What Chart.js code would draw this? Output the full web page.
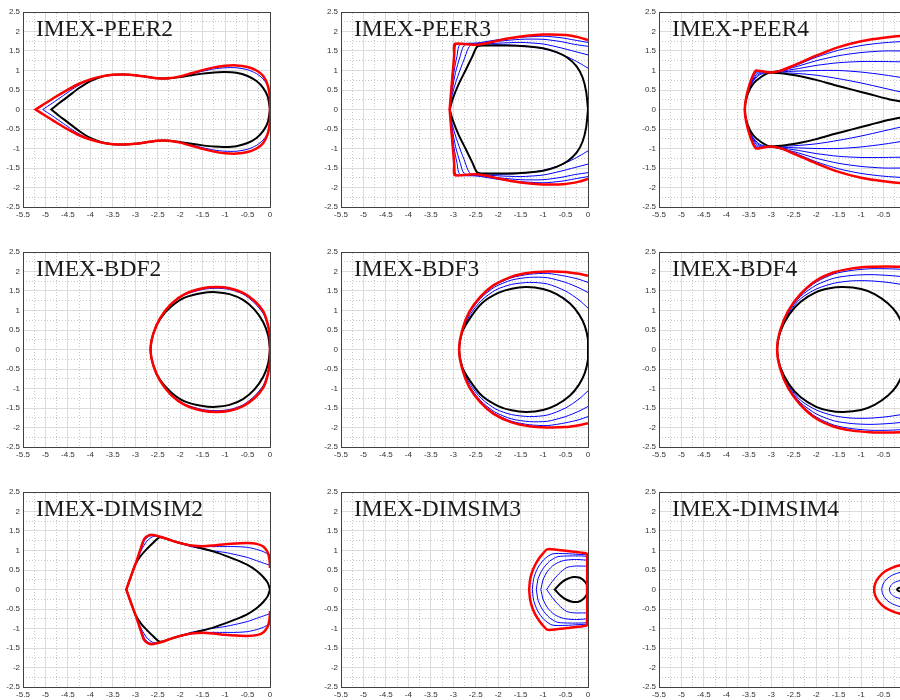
<!DOCTYPE html>
<html><head><meta charset="utf-8">
<script src="https://cdn.jsdelivr.net/npm/chart.js@4.4.0/dist/chart.umd.min.js"></script>
<style>
html,body{margin:0;padding:0;background:#fff;width:900px;height:700px;overflow:hidden;}
#fig{position:relative;width:900px;height:700px;overflow:hidden;background:#fff;}
#fig canvas{position:absolute;}
.ttl{position:absolute;font-family:"Liberation Serif","Times New Roman",serif;font-size:23.5px;color:#1a1a1a;white-space:nowrap;line-height:1;z-index:2;}
</style></head><body><div id="fig"></div>
<script>
// ---------- data (upper halves; curves are symmetric about Im=0) ----------
const titles = ['IMEX-PEER2','IMEX-PEER3','IMEX-PEER4','IMEX-BDF2','IMEX-BDF3','IMEX-BDF4','IMEX-DIMSIM2','IMEX-DIMSIM3','IMEX-DIMSIM4'];
const xRange = [-5.5, 0];
const yRange = [-2.5, 2.5];
const majorStep = 0.5;
const minorStep = 0.25;

// IMEX-PEER2
const peer2Red = [[-5.22,0],[-5.0,0.16],[-4.75,0.34],[-4.5,0.51],[-4.25,0.66],[-4.0,0.77],[-3.75,0.85],[-3.5,0.89],[-3.25,0.9],[-3.0,0.88],[-2.75,0.84],[-2.5,0.8],[-2.25,0.8],[-2.0,0.85],[-1.75,0.93],[-1.5,1.01],[-1.25,1.08],[-1.0,1.12],[-0.75,1.13],[-0.5,1.09],[-0.3,1.0],[-0.15,0.86],[-0.05,0.62],[0,0.3],[0,0]];
const peer2Black = [[-4.87,0],[-4.7,0.16],[-4.5,0.33],[-4.25,0.55],[-4.0,0.73],[-3.75,0.84],[-3.5,0.89],[-3.25,0.9],[-3.0,0.88],[-2.75,0.84],[-2.5,0.8],[-2.25,0.8],[-2.0,0.83],[-1.75,0.88],[-1.5,0.92],[-1.25,0.95],[-1.0,0.96],[-0.75,0.94],[-0.5,0.86],[-0.3,0.73],[-0.15,0.55],[-0.05,0.33],[0,0]];
const peer2Blue1 = [[-5.06,0],[-4.85,0.16],[-4.6,0.36],[-4.4,0.52],[-4.2,0.66],[-4.0,0.77],[-3.75,0.85],[-3.5,0.89],[-3.25,0.9],[-3.0,0.88],[-2.75,0.84],[-2.5,0.8],[-2.25,0.8],[-2.0,0.84],[-1.75,0.91],[-1.5,0.98],[-1.25,1.04],[-1.0,1.07],[-0.75,1.07],[-0.5,1.02],[-0.3,0.92],[-0.15,0.78],[-0.05,0.6],[0,0.3],[0,0]];

// IMEX-PEER3
const peer3Red = [[-3.08,0],[-3.06,0.3],[-3.03,0.7],[-3.0,1.1],[-2.98,1.4],[-2.97,1.68],[-2.7,1.67],[-2.48,1.66],[-2.2,1.71],[-2.0,1.77],[-1.5,1.87],[-1.0,1.92],[-0.5,1.91],[-0.2,1.85],[0,1.78]];
const peer3Black = [[-3.08,0],[-3.01,0.28],[-2.88,0.65],[-2.72,1.02],[-2.58,1.35],[-2.46,1.62],[-2.2,1.64],[-1.8,1.64],[-1.4,1.62],[-1.0,1.57],[-0.7,1.47],[-0.45,1.32],[-0.25,1.1],[-0.12,0.82],[-0.04,0.45],[0,0]];
const peer3Blue1 = [[-3.08,0],[-3.02,0.4],[-2.9,0.85],[-2.76,1.28],[-2.62,1.64],[-2.3,1.65],[-2.0,1.66],[-1.5,1.64],[-1.0,1.56],[-0.6,1.42],[-0.3,1.26],[-0.1,1.13],[0,1.06]];
const peer3Blue2 = [[-3.08,0],[-3.03,0.45],[-2.95,0.95],[-2.85,1.35],[-2.75,1.65],[-2.4,1.67],[-2.0,1.7],[-1.5,1.72],[-1.0,1.68],[-0.6,1.58],[-0.3,1.49],[0,1.4]];
const peer3Blue3 = [[-3.08,0],[-3.04,0.5],[-2.98,1.0],[-2.92,1.35],[-2.85,1.66],[-2.4,1.7],[-2.0,1.75],[-1.5,1.8],[-1.0,1.8],[-0.6,1.74],[-0.3,1.67],[0,1.62]];
const peer3Blue4 = [[-3.08,0],[-3.05,0.5],[-3.01,1.05],[-2.97,1.4],[-2.93,1.67],[-2.5,1.7],[-2.0,1.79],[-1.5,1.85],[-1.0,1.88],[-0.6,1.84],[-0.3,1.78],[0,1.72]];

// IMEX-PEER4
const peer4Red = [[-3.59,0],[-3.56,0.3],[-3.49,0.62],[-3.4,0.9],[-3.34,1.0],[-3.2,0.98],[-3.03,0.95],[-2.8,0.99],[-2.5,1.13],[-2.0,1.38],[-1.5,1.6],[-1.0,1.75],[-0.5,1.84],[0,1.9]];
const peer4Black = [[-3.59,0],[-3.53,0.38],[-3.4,0.66],[-3.22,0.84],[-3.03,0.94],[-2.66,0.91],[-2.3,0.84],[-2.0,0.76],[-1.6,0.63],[-1.2,0.51],[-0.8,0.39],[-0.4,0.27],[-0.1,0.2],[0,0.18]];
const peer4Blue1 = [[-3.59,0],[-3.54,0.35],[-3.43,0.68],[-3.27,0.88],[-3.1,0.95],[-3.0,0.95],[-2.5,0.93],[-2.0,0.88],[-1.5,0.79],[-1.0,0.68],[-0.5,0.55],[0,0.42]];
const peer4Blue2 = [[-3.59,0],[-3.55,0.33],[-3.45,0.66],[-3.3,0.89],[-3.15,0.96],[-3.0,0.96],[-2.5,0.98],[-2.0,1.0],[-1.5,1.0],[-1.0,0.96],[-0.5,0.89],[0,0.8]];
const peer4Blue3 = [[-3.59,0],[-3.55,0.32],[-3.46,0.65],[-3.33,0.9],[-3.2,0.97],[-3.0,0.96],[-2.5,1.03],[-2.0,1.13],[-1.5,1.2],[-1.0,1.23],[-0.5,1.23],[0,1.22]];
const peer4Blue4 = [[-3.59,0],[-3.56,0.31],[-3.47,0.64],[-3.36,0.91],[-3.26,0.98],[-3.0,0.96],[-2.5,1.08],[-2.0,1.25],[-1.5,1.38],[-1.0,1.46],[-0.5,1.5],[0,1.5]];
const peer4Blue5 = [[-3.59,0],[-3.56,0.3],[-3.48,0.63],[-3.38,0.92],[-3.3,0.99],[-3.0,0.96],[-2.5,1.11],[-2.0,1.34],[-1.5,1.52],[-1.0,1.64],[-0.5,1.71],[0,1.75]];

// IMEX-BDF2
const bdf2Red = [[-2.66,0],[-2.6,0.4],[-2.45,0.8],[-2.2,1.17],[-1.9,1.42],[-1.5,1.57],[-1.2,1.6],[-0.9,1.57],[-0.6,1.45],[-0.35,1.25],[-0.15,0.98],[-0.05,0.65],[0,0.3],[0,0]];
const bdf2Black = [[-2.66,0],[-2.6,0.4],[-2.45,0.78],[-2.2,1.1],[-1.9,1.33],[-1.5,1.45],[-1.2,1.47],[-0.9,1.42],[-0.6,1.27],[-0.35,1.03],[-0.15,0.7],[-0.04,0.35],[0,0]];
const bdf2Blue1 = [[-2.66,0],[-2.6,0.4],[-2.45,0.79],[-2.2,1.15],[-1.9,1.4],[-1.5,1.54],[-1.2,1.57],[-0.9,1.54],[-0.6,1.42],[-0.35,1.2],[-0.15,0.92],[-0.05,0.6],[0,0.3],[0,0]];

// IMEX-BDF3
const bdf3Red = [[-2.87,0],[-2.8,0.5],[-2.65,0.95],[-2.4,1.35],[-2.1,1.65],[-1.7,1.87],[-1.3,1.97],[-0.9,2.0],[-0.5,1.99],[-0.2,1.94],[0,1.89]];
const bdf3Black = [[-2.87,0],[-2.8,0.45],[-2.6,0.85],[-2.35,1.2],[-2.0,1.45],[-1.7,1.56],[-1.37,1.6],[-1.0,1.55],[-0.7,1.42],[-0.4,1.18],[-0.2,0.9],[-0.07,0.6],[0,0.25],[0,0]];
const bdf3Blue1 = [[-2.87,0],[-2.8,0.47],[-2.62,0.9],[-2.38,1.25],[-2.05,1.53],[-1.7,1.67],[-1.3,1.72],[-0.9,1.68],[-0.5,1.5],[-0.2,1.27],[0,1.06]];
const bdf3Blue2 = [[-2.87,0],[-2.8,0.48],[-2.64,0.93],[-2.4,1.3],[-2.08,1.6],[-1.7,1.78],[-1.3,1.85],[-0.9,1.84],[-0.5,1.72],[-0.2,1.58],[0,1.46]];
const bdf3Blue3 = [[-2.87,0],[-2.8,0.49],[-2.65,0.94],[-2.4,1.33],[-2.1,1.63],[-1.7,1.84],[-1.3,1.93],[-0.9,1.95],[-0.5,1.88],[-0.2,1.8],[0,1.72]];

// IMEX-BDF4
const bdf4Red = [[-2.87,0],[-2.8,0.5],[-2.62,1.0],[-2.35,1.42],[-2.0,1.77],[-1.6,1.98],[-1.2,2.08],[-0.8,2.12],[-0.4,2.13],[0,2.12]];
const bdf4Black = [[-2.87,0],[-2.8,0.45],[-2.6,0.9],[-2.35,1.22],[-2.0,1.47],[-1.7,1.57],[-1.4,1.6],[-1.0,1.55],[-0.7,1.42],[-0.4,1.18],[-0.2,0.92],[-0.07,0.6],[0,0.25],[0,0]];
const bdf4Blue1 = [[-2.87,0],[-2.8,0.47],[-2.6,0.95],[-2.35,1.3],[-2.0,1.55],[-1.6,1.7],[-1.2,1.76],[-0.8,1.76],[-0.4,1.72],[0,1.65]];
const bdf4Blue2 = [[-2.87,0],[-2.8,0.48],[-2.61,0.97],[-2.35,1.36],[-2.0,1.65],[-1.6,1.83],[-1.2,1.9],[-0.8,1.92],[-0.4,1.9],[0,1.86]];
const bdf4Blue3 = [[-2.87,0],[-2.8,0.49],[-2.62,0.99],[-2.35,1.4],[-2.0,1.73],[-1.6,1.94],[-1.2,2.03],[-0.8,2.07],[-0.4,2.07],[0,2.05]];

// IMEX-DIMSIM2
const dim2Red = [[-3.2,0],[-3.1,0.33],[-2.98,0.7],[-2.88,1.05],[-2.8,1.3],[-2.7,1.39],[-2.6,1.4],[-2.4,1.34],[-2.2,1.26],[-2.0,1.19],[-1.75,1.13],[-1.5,1.11],[-1.25,1.13],[-1.0,1.16],[-0.75,1.18],[-0.5,1.19],[-0.3,1.17],[-0.15,1.1],[-0.05,0.95],[-0.01,0.75],[0,0.55]];
const dim2Black = [[-3.2,0],[-3.1,0.32],[-3.0,0.64],[-2.88,0.86],[-2.75,1.03],[-2.6,1.2],[-2.45,1.34],[-2.2,1.26],[-2.0,1.19],[-1.75,1.12],[-1.5,1.05],[-1.25,0.97],[-1.0,0.87],[-0.75,0.76],[-0.5,0.63],[-0.3,0.48],[-0.15,0.32],[-0.05,0.17],[0,0]];
const dim2Blue1 = [[-3.2,0],[-3.1,0.33],[-2.98,0.69],[-2.87,1.04],[-2.78,1.28],[-2.68,1.37],[-2.55,1.38],[-2.4,1.34],[-2.2,1.26],[-2.0,1.19],[-1.75,1.13],[-1.5,1.1],[-1.25,1.1],[-1.0,1.1],[-0.75,1.1],[-0.5,1.08],[-0.3,1.03],[-0.15,0.97],[0,0.88]];
const dim2Blue2 = [[-3.2,0],[-3.1,0.33],[-2.99,0.68],[-2.86,1.02],[-2.74,1.24],[-2.62,1.35],[-2.5,1.37],[-2.4,1.34],[-2.2,1.26],[-2.0,1.18],[-1.75,1.1],[-1.5,1.04],[-1.25,0.99],[-1.0,0.95],[-0.75,0.89],[-0.5,0.82],[-0.3,0.74],[-0.15,0.68],[0,0.62]];

// IMEX-DIMSIM3
const dim3Red = [[-1.31,0],[-1.29,0.25],[-1.23,0.5],[-1.13,0.73],[-1.02,0.9],[-0.91,1.03],[-0.7,1.02],[-0.4,0.98],[-0.05,0.93],[-0.02,0.9],[-0.02,0]];
const dim3Black = [[-0.74,0],[-0.62,0.15],[-0.5,0.25],[-0.33,0.32],[-0.18,0.3],[-0.07,0.2],[-0.01,0.08],[0,0]];
const dim3Blue1 = [[-0.92,0],[-0.8,0.2],[-0.65,0.4],[-0.48,0.56],[-0.3,0.6],[-0.1,0.6],[-0.02,0.6]];
const dim3Blue2 = [[-1.05,0],[-1.0,0.25],[-0.9,0.47],[-0.75,0.64],[-0.55,0.74],[-0.3,0.77],[-0.1,0.76],[-0.02,0.75]];
const dim3Blue3 = [[-1.15,0],[-1.11,0.28],[-1.01,0.52],[-0.86,0.72],[-0.68,0.84],[-0.4,0.86],[-0.15,0.86],[-0.02,0.85]];
const dim3Blue4 = [[-1.24,0],[-1.21,0.28],[-1.12,0.55],[-0.98,0.77],[-0.8,0.91],[-0.5,0.92],[-0.2,0.9],[-0.02,0.89]];

// IMEX-DIMSIM4
const dim4Red = [[-0.71,0],[-0.68,0.17],[-0.6,0.32],[-0.47,0.46],[-0.3,0.56],[-0.13,0.62],[0,0.64]];
const dim4Black = [[-0.2,0],[-0.16,0.04],[-0.1,0.05],[0,0.05]];
const dim4Blue1 = [[-0.37,0],[-0.34,0.1],[-0.26,0.18],[-0.13,0.23],[0,0.25]];
const dim4Blue2 = [[-0.54,0],[-0.51,0.14],[-0.43,0.27],[-0.3,0.37],[-0.13,0.44],[0,0.46]];

// ---------- panels ----------
const panels = [
  {red: peer2Red, black: peer2Black, blue: [peer2Blue1], cusp: true},
  {red: peer3Red, black: peer3Black, blue: [peer3Blue1, peer3Blue2, peer3Blue3, peer3Blue4], cusp: true},
  {red: peer4Red, black: peer4Black, blue: [peer4Blue1, peer4Blue2, peer4Blue3, peer4Blue4, peer4Blue5], cusp: false},
  {red: bdf2Red, black: bdf2Black, blue: [bdf2Blue1], cusp: false},
  {red: bdf3Red, black: bdf3Black, blue: [bdf3Blue1, bdf3Blue2, bdf3Blue3], cusp: false},
  {red: bdf4Red, black: bdf4Black, blue: [bdf4Blue1, bdf4Blue2, bdf4Blue3], cusp: false},
  {red: dim2Red, black: dim2Black, blue: [dim2Blue1, dim2Blue2], cusp: true},
  {red: dim3Red, black: dim3Black, blue: [dim3Blue1, dim3Blue2, dim3Blue3, dim3Blue4], cusp: true},
  {red: dim4Red, black: dim4Black, blue: [dim4Blue1, dim4Blue2], cusp: false}
];

// ---------- layout ----------
const PLOT_W = 247, PLOT_H = 195;
const colLeft = [23, 341, 659];
const rowTop = [12, 252, 492];
const YAX_W = 22, XAX_H = 16, PAD_T = 8, PAD_R = 10;
const TICK_COLOR = '#333333', AXIS_COLOR = '#404040';
const MAJOR_GRID = '#dcdcdc', MINOR_GRID = '#c8c8c8';
const TICK_FONT = {family: '"Liberation Sans", Arial, Helvetica, sans-serif', size: 8};
const fmtTick = v => String(Math.round(v * 100) / 100);

function loop(upper, cusp) {
  const top = upper.slice().reverse().map(p => ({x: p[0], y: p[1]}));
  const src = cusp ? upper : upper.slice(1);
  const bottom = src.map(p => ({x: p[0], y: -p[1]}));
  return top.concat(bottom);
}

const fig = document.getElementById('fig');

panels.forEach((p, i) => {
  const r = Math.floor(i / 3), c = i % 3;
  const L = colLeft[c], T = rowTop[r];
  const cv = document.createElement('canvas');
  const W = YAX_W + PLOT_W + PAD_R, H = PAD_T + PLOT_H + XAX_H;
  cv.width = W; cv.height = H;
  cv.style.left = (L - YAX_W) + 'px';
  cv.style.top = (T - PAD_T) + 'px';
  cv.style.width = W + 'px'; cv.style.height = H + 'px';
  fig.appendChild(cv);

  const t = document.createElement('div');
  t.className = 'ttl';
  t.textContent = titles[i];
  t.style.left = (L + 13) + 'px';
  t.style.top = (T + 5) + 'px';
  fig.appendChild(t);

  const datasets = [];
  datasets.push({data: loop(p.red, p.cusp), borderColor: '#ff0000', borderWidth: 2.5});
  datasets.push({data: loop(p.black, p.cusp), borderColor: '#000000', borderWidth: 2});
  p.blue.forEach(b => datasets.push({data: loop(b, p.cusp), borderColor: '#0000ff', borderWidth: 1}));
  datasets.forEach(d => { d.showLine = true; d.pointRadius = 0; d.tension = 0.25; d.fill = false; });

  new Chart(cv, {
    type: 'scatter',
    data: {datasets},
    options: {
      responsive: false, animation: false, devicePixelRatio: 1, events: [],
      layout: {padding: {top: PAD_T, right: PAD_R, left: 0, bottom: 0}},
      plugins: {legend: {display: false}, tooltip: {enabled: false}, title: {display: false}},
      scales: {
        x: {
          type: 'linear', position: 'bottom', min: xRange[0], max: xRange[1],
          ticks: {stepSize: majorStep, autoSkip: false, maxRotation: 0, minRotation: 0, color: TICK_COLOR, font: TICK_FONT, padding: 3, callback: fmtTick},
          grid: {color: MAJOR_GRID, lineWidth: 1, drawTicks: false},
          border: {display: true, color: AXIS_COLOR, width: 1},
          afterFit: s => { s.height = XAX_H; }
        },
        y: {
          type: 'linear', position: 'left', min: yRange[0], max: yRange[1],
          ticks: {stepSize: majorStep, autoSkip: false, color: TICK_COLOR, font: TICK_FONT, padding: 3, callback: fmtTick},
          grid: {color: MAJOR_GRID, lineWidth: 1, drawTicks: false},
          border: {display: true, color: AXIS_COLOR, width: 1},
          afterFit: s => { s.width = YAX_W; }
        },
        x2: {
          type: 'linear', position: 'top', min: xRange[0], max: xRange[1],
          ticks: {stepSize: minorStep, display: false},
          grid: {color: ctx => (ctx.index % 2 ? MINOR_GRID : 'rgba(0,0,0,0)'), lineWidth: 1, drawTicks: false},
          border: {display: true, color: AXIS_COLOR, width: 1, dash: [1, 2]},
          afterFit: s => { s.height = 0; }
        },
        y2: {
          type: 'linear', position: 'right', min: yRange[0], max: yRange[1],
          ticks: {stepSize: minorStep, display: false},
          grid: {color: ctx => (ctx.index % 2 ? MINOR_GRID : 'rgba(0,0,0,0)'), lineWidth: 1, drawTicks: false},
          border: {display: true, color: AXIS_COLOR, width: 1, dash: [1, 2]},
          afterFit: s => { s.width = 0; }
        }
      }
    }
  });
});
</script></body></html>
